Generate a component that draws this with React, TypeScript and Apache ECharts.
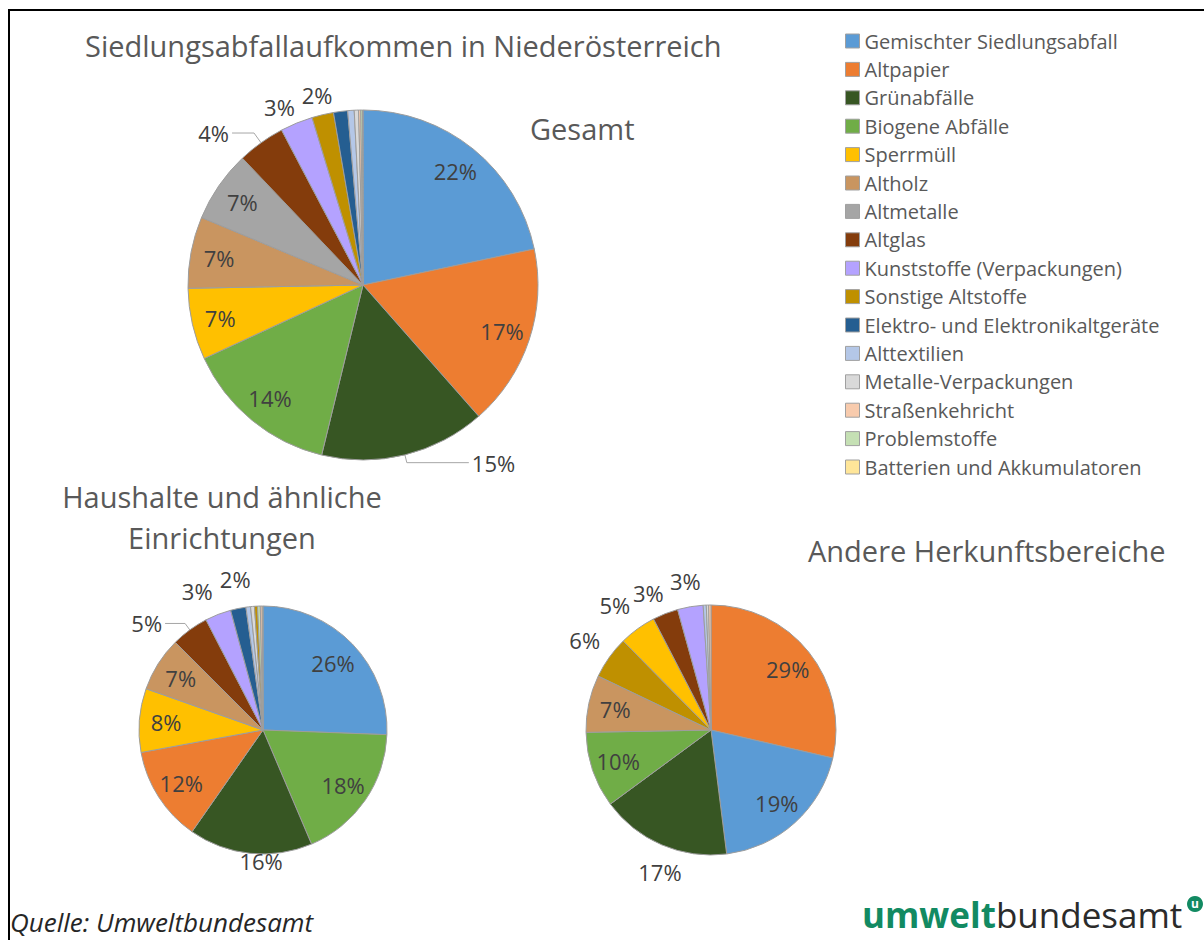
import React, { useEffect, useRef } from "react";
import * as echarts from "echarts";

// ---------- data ----------
const CATEGORIES = [
  "Gemischter Siedlungsabfall",
  "Altpapier",
  "Grünabfälle",
  "Biogene Abfälle",
  "Sperrmüll",
  "Altholz",
  "Altmetalle",
  "Altglas",
  "Kunststoffe (Verpackungen)",
  "Sonstige Altstoffe",
  "Elektro- und Elektronikaltgeräte",
  "Alttextilien",
  "Metalle-Verpackungen",
  "Straßenkehricht",
  "Problemstoffe",
  "Batterien und Akkumulatoren",
];

const COLORS = [
  "#5B9BD5", "#ED7D31", "#375623", "#70AD47", "#FFC000", "#C99560",
  "#A5A5A5", "#843C0C", "#B4A2FF", "#BF9000", "#255E91", "#B4C7E7",
  "#D9D9D9", "#F8CBAD", "#C5E0B4", "#FFE699",
];

// shares in %, in category order
const GESAMT = [21.7, 16.8, 15.3, 14.3, 6.6, 6.6, 6.6, 4.4, 3.0, 2.0, 1.3, 0.6, 0.4, 0.2, 0.15, 0.05];
const HAUSHALTE = [25.6, 12.4, 16.1, 18.0, 8.3, 7.1, 0, 4.9, 3.4, 0.4, 2.0, 0.6, 0.5, 0.25, 0.35, 0.1];
const ANDERE = [19.4, 28.6, 16.9, 9.8, 4.8, 7.4, 0, 3.3, 3.3, 5.5, 0, 0.4, 0.3, 0.3, 0, 0];

const MAIN_TITLE = "Siedlungsabfallaufkommen in Niederösterreich";
const TITLE_GESAMT = "Gesamt";
const TITLE_HAUSHALTE = "Haushalte und ähnliche\nEinrichtungen";
const TITLE_ANDERE = "Andere Herkunftsbereiche";
const SOURCE = "Quelle: Umweltbundesamt";

// ---------- styling / layout config ----------
const FONT = "'Open Sans', 'DejaVu Sans', sans-serif";
const LABEL_COLOR = "#404040";
const TEXT_COLOR = "#595959";
const LABEL_SIZE = 22;
const TITLE_SIZE = 29;

type PieCfg = {
  center: [number, number];
  r: number;
  innerK: number; // inner label radius fraction
  ringD: number; // distance of outside labels beyond the rim
  leader: Record<string, [number, number]>;
  outer: string[];
  nudge?: Record<string, [number, number]>;
};

const CFG_GESAMT: PieCfg = {
  center: [363, 285],
  r: 175,
  innerK: 0.82,
  ringD: 21,
  leader: { "Grünabfälle": [8, 62], "Altglas": [12, 22] },
  outer: ["Kunststoffe (Verpackungen)", "Sonstige Altstoffe"],
  nudge: { "Kunststoffe (Verpackungen)": [-8, 6], "Sonstige Altstoffe": [0, 4] },
};
const CFG_HAUSHALTE: PieCfg = {
  center: [263, 730],
  r: 124,
  innerK: 0.76,
  ringD: 27,
  leader: { "Altglas": [8, 20] },
  outer: ["Grünabfälle", "Kunststoffe (Verpackungen)", "Elektro- und Elektronikaltgeräte"],
  nudge: {
    "Grünabfälle": [14, -22],
    "Kunststoffe (Verpackungen)": [-10, 5],
    "Elektro- und Elektronikaltgeräte": [3, 0],
  },
};
const CFG_ANDERE: PieCfg = {
  center: [711, 730],
  r: 125,
  innerK: 0.76,
  ringD: 27,
  leader: {},
  outer: ["Grünabfälle", "Sonstige Altstoffe", "Sperrmüll", "Altglas", "Kunststoffe (Verpackungen)"],
  nudge: {
    "Grünabfälle": [10, 0],
    "Sperrmüll": [-5, 0],
    "Altglas": [-6, 7],
    "Kunststoffe (Verpackungen)": [0, 4],
  },
};

const fmt = (p: any) => Math.round(p.percent) + "%";
const labelBase = {
  color: LABEL_COLOR,
  fontSize: LABEL_SIZE,
  fontFamily: FONT,
  formatter: fmt,
};

function buildPie(values: number[], cfg: PieCfg) {
  const data = CATEGORIES.map((name, i) => ({ name, value: values[i], color: COLORS[i] }))
    .filter((d) => d.value > 0)
    .sort((a, b) => b.value - a.value);
  const total = data.reduce((s, d) => s + d.value, 0);
  const isShown = (v: number) => (v / total) * 100 >= 1.5;
  const common = {
    type: "pie",
    center: cfg.center,
    startAngle: 90,
    clockwise: true,
    avoidLabelOverlap: false,
    silent: true,
    emphasis: { disabled: true },
    animation: false,
  };
  const main = {
    ...common,
    radius: [0, cfg.r],
    itemStyle: { borderColor: "#9d9d9d", borderWidth: 1 },
    label: { show: false },
    labelLine: { show: false },
    data: data.map((d) => {
      const item: any = { name: d.name, value: d.value, itemStyle: { color: d.color } };
      const ll = cfg.leader[d.name];
      if (ll) {
        item.label = { show: true, position: "outside", distanceToLabelLine: 3, ...labelBase };
        item.labelLine = {
          show: true,
          length: ll[0],
          length2: ll[1],
          lineStyle: { color: "#a6a6a6", width: 1 },
        };
      }
      return item;
    }),
  };
  const inner = {
    ...common,
    radius: [cfg.r * (2 * cfg.innerK - 1), cfg.r],
    itemStyle: { color: "rgba(0,0,0,0)", borderWidth: 0 },
    label: { show: false },
    labelLine: { show: false },
    data: data.map((d) => {
      const show =
        isShown(d.value) && !cfg.leader[d.name] && !cfg.outer.includes(d.name);
      return {
        name: d.name,
        value: d.value,
        label: show ? { show: true, position: "inside", ...labelBase } : { show: false },
      };
    }),
  };
  const ring = {
    ...common,
    radius: [cfg.r, cfg.r + 2 * cfg.ringD],
    itemStyle: { color: "rgba(0,0,0,0)", borderWidth: 0 },
    label: { show: false },
    labelLine: { show: false },
    labelLayout: { hideOverlap: false },
    data: data.map((d) => {
      const show = cfg.outer.includes(d.name);
      const off = cfg.nudge && cfg.nudge[d.name];
      return {
        name: d.name,
        value: d.value,
        label: show
          ? { show: true, position: "inside", ...labelBase, ...(off ? { offset: off } : {}) }
          : { show: false },
      };
    }),
  };
  return [main, inner, ring];
}

const GREEN = "#128a62";

export default function App() {
  const ref = useRef<HTMLDivElement>(null);
  useEffect(() => {
    if (!ref.current) return;
    const chart = echarts.init(ref.current, undefined, { renderer: "svg" });
    const titleStyle = {
      fontSize: TITLE_SIZE,
      fontFamily: FONT,
      fill: TEXT_COLOR,
      textAlign: "left",
      textVerticalAlign: "middle",
    };
    const option: any = {
      animation: false,
      backgroundColor: "#ffffff",
      legend: {
        orient: "vertical",
        left: 840,
        top: 26,
        itemWidth: 14,
        itemHeight: 14,
        itemGap: 8.4,
        icon: "rect",
        selectedMode: false,
        textStyle: { fontSize: 20, color: TEXT_COLOR, fontFamily: FONT, lineHeight: 20 },
        data: CATEGORIES.map((n, i) => ({
          name: n,
          itemStyle: { color: COLORS[i], borderColor: "#a0a0a0", borderWidth: 1 },
        })),
      },
      series: [
        ...buildPie(GESAMT, CFG_GESAMT),
        ...buildPie(HAUSHALTE, CFG_HAUSHALTE),
        ...buildPie(ANDERE, CFG_ANDERE),
      ],
      graphic: [
        { type: "line", shape: { x1: 8, y1: 10, x2: 1204, y2: 10 }, style: { stroke: "#000", lineWidth: 2 } },
        { type: "line", shape: { x1: 9, y1: 10, x2: 9, y2: 940 }, style: { stroke: "#000", lineWidth: 2 } },
        { type: "text", x: 85, y: 45, style: { text: MAIN_TITLE, ...titleStyle } },
        { type: "text", x: 530, y: 128, style: { text: TITLE_GESAMT, ...titleStyle } },
        {
          type: "text", x: 222, y: 517,
          style: { text: TITLE_HAUSHALTE, ...titleStyle, lineHeight: 41, textAlign: "center" },
        },
        { type: "text", x: 808, y: 550, style: { text: TITLE_ANDERE, ...titleStyle } },
        {
          type: "text", x: 10, y: 922,
          style: { text: SOURCE, fontSize: 26, fontStyle: "italic", fontFamily: FONT, fill: "#262626", textAlign: "left", textVerticalAlign: "middle" },
        },
        {
          type: "text", x: 862, y: 914,
          style: {
            text: "{a|umwelt}{b|bundesamt}",
            textAlign: "left",
            textVerticalAlign: "middle",
            rich: {
              a: { fontSize: 35, fontWeight: "bold", fontFamily: FONT, fill: GREEN },
              b: { fontSize: 35, fontFamily: FONT, fill: "#2b2b2b" },
            },
          },
        },
        { type: "circle", shape: { cx: 1195, cy: 904, r: 8 }, style: { fill: GREEN } },
        {
          type: "text", x: 1195, y: 903,
          style: { text: "u", fontSize: 12, fontWeight: "bold", fontFamily: FONT, fill: "#fff", textAlign: "center", textVerticalAlign: "middle" },
        },
      ],
    };
    chart.setOption(option);
    return () => chart.dispose();
  }, []);
  return (
    <div
      ref={ref}
      style={{ position: "absolute", left: 0, top: 0, width: 1204, height: 940, background: "#fff" }}
    />
  );
}
